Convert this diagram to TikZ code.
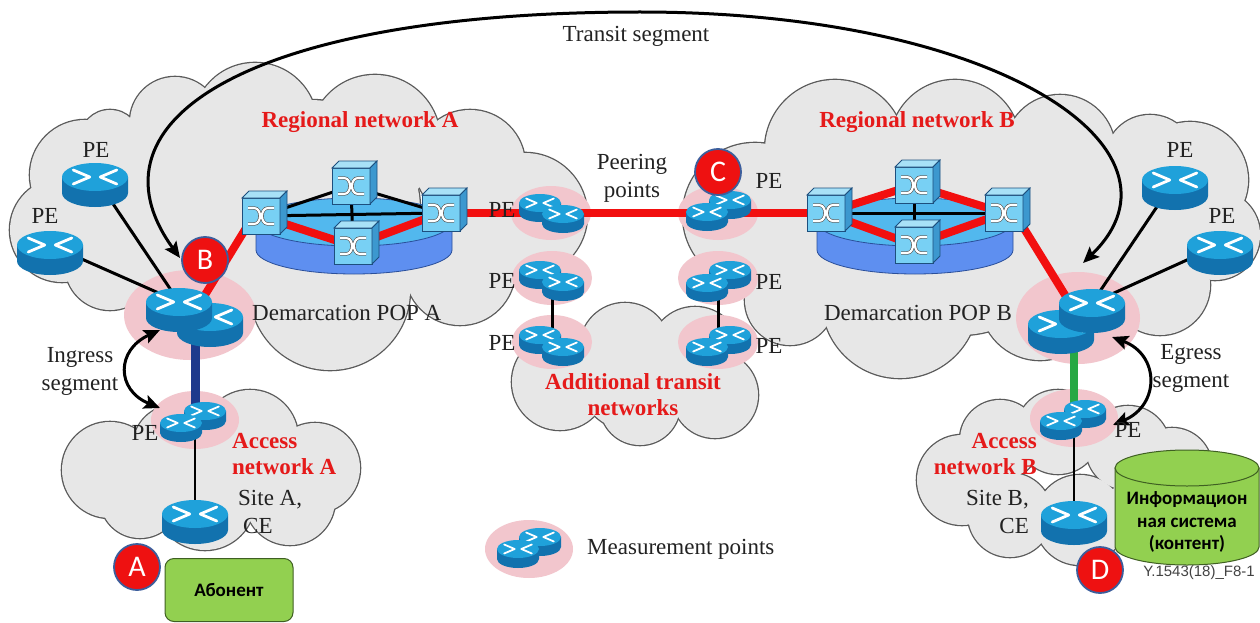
\documentclass[tikz,border=0pt]{standalone}
\usepackage{fontspec}
\setmainfont{Liberation Serif}
\newfontfamily\calib{Carlito}
\newfontfamily\arialf{Liberation Sans}
\usetikzlibrary{arrows.meta,shapes.geometric,calc}

\definecolor{cloudfill}{HTML}{E7E7E7}
\definecolor{cloudedge}{HTML}{5A5A5A}
\definecolor{pinkspot}{HTML}{F2C6CD}
\definecolor{linkred}{HTML}{F20F0F}
\definecolor{labelred}{HTML}{E51A1A}
\definecolor{navyline}{HTML}{1E3A8C}
\definecolor{greenline}{HTML}{27A844}
\definecolor{rtop}{HTML}{1FA1DA}
\definecolor{rside}{HTML}{1272AE}
\definecolor{cfront}{HTML}{78D0F4}
\definecolor{ctop}{HTML}{A8E1F7}
\definecolor{cright}{HTML}{3C98CF}
\definecolor{cedge}{HTML}{1D4F7E}
\definecolor{platop}{HTML}{52B8EE}
\definecolor{plaside}{HTML}{5E8FF0}
\definecolor{plaedge}{HTML}{2A4F9A}
\definecolor{lime}{HTML}{92D050}
\definecolor{limeedge}{HTML}{3F5F22}
\definecolor{markred}{HTML}{EE1111}
\definecolor{markedge}{HTML}{3C5E9C}
\definecolor{ink}{HTML}{222222}

% router: lid half width, lid half height, body depth
\newcommand\routerbody[3]{%
  \fill[rside] (-#1,0) -- (-#1,#3) arc[start angle=180,end angle=360,x radius=#1pt,y radius=#2pt] -- (#1,0) -- cycle;
  \fill[rtop] (0,0) ellipse[x radius=#1pt,y radius=#2pt];
  \draw[white,line width=#1*0.085pt,line cap=round,line join=round]
    (-0.66*#1,-0.5*#2) -- (-0.16*#1,0) -- (-0.66*#1,0.5*#2)
    (0.66*#1,-0.5*#2) -- (0.16*#1,0) -- (0.66*#1,0.5*#2);
}
% switch cube centred on its front face
\newcommand\switchbody{%
  \filldraw[cfront,draw=cedge,line width=0.8pt] (-19,-18) rectangle (19,18);
  \filldraw[ctop,draw=cedge,line width=0.8pt] (-19,-18) -- (-12,-25) -- (26,-25) -- (19,-18) -- cycle;
  \filldraw[cright,draw=cedge,line width=0.8pt] (19,-18) -- (26,-25) -- (26,11) -- (19,18) -- cycle;
  \draw[draw=ink!80,double=white,double distance=2.2pt,line width=0.6pt]
    (-13,-8) -- (-7,-8) .. controls (1,-8) and (1,8) .. (-7,8) -- (-13,8)
    (13,-8) -- (7,-8) .. controls (-1,-8) and (-1,8) .. (7,8) -- (13,8);
}
% cloud as a union of discs: outlines first, then fills
\newcommand\cloudblob[1]{%
  \foreach \cx/\cy/\cr in {#1} {\draw[cloudedge,line width=2.6pt] (\cx,\cy) circle[radius=\cr pt];}
  \foreach \cx/\cy/\cr in {#1} {\fill[cloudfill] (\cx,\cy) circle[radius=\cr pt];}
}
% ring platform under the switches
\newcommand\platform[1]{%
  \filldraw[plaside,draw=plaedge,line width=0.8pt] ($(#1)+(-98,0)$) -- ++(0,28) arc[start angle=180,end angle=360,x radius=98pt,y radius=24pt] -- ++(0,-28) -- cycle;
  \filldraw[platop,draw=plaedge,line width=0.8pt] (#1) ellipse[x radius=98pt,y radius=24pt];
}

\tikzset{
  router/.pic={\routerbody{33}{14}{16}},
  mrouter/.pic={\routerbody{21}{9}{10}},
  switchbox/.pic={\switchbody},
  lbl/.style={font=\fontsize{23}{28}\selectfont, text=ink, inner sep=0pt, align=center},
  rlbl/.style={lbl, font=\fontsize{23}{26}\selectfont\bfseries, text=labelred},
  spot/.style={ellipse, fill=pinkspot, inner sep=0pt},
  blacklink/.style={draw=black, line width=3pt},
  thinlink/.style={draw=black, line width=2.6pt},
  redlink/.style={draw=linkred, line width=8pt},
  seg/.style={draw=black, line width=3pt,
    arrows={Stealth[length=16pt,width=14pt,inset=3pt]-Stealth[length=16pt,width=14pt,inset=3pt]}},
  marker/.style={circle, fill=markred, draw=markedge, line width=1.8pt, text=white,
    font=\calib\fontsize{30}{30}\selectfont, minimum size=46pt, inner sep=0pt},
  abonent/.style={draw=limeedge, fill=lime, rounded corners=9pt, line width=1pt,
    minimum width=128pt, minimum height=63pt, font=\calib\bfseries\fontsize{19}{22}\selectfont}
}

\begin{document}
\begin{tikzpicture}[x=1pt,y=-1pt]
\useasboundingbox (0,0) rectangle (1260,623);
\fill[white] (0,0) rectangle (1260,623);

% ---------- clouds ----------
\cloudblob{560/382/48, 625/348/45, 695/352/45, 715/395/43, 640/405/40, 630/380/50}
\cloudblob{62/230/52, 85/175/55, 110/140/30, 175/122/45, 255/125/62, 375/140/65, 470/165/55,
  525/215/62, 330/290/80, 200/270/60, 110/265/45, 460/270/55, 310/210/110,
  190/185/55, 140/215/50, 140/160/32}
\cloudblob{755/215/72, 835/150/70, 955/145/65, 1060/150/55, 1150/160/45, 1190/180/58,
  1215/235/45, 1160/285/50, 1040/300/60, 900/300/78, 790/300/45, 960/225/110,
  1095/215/55, 1130/240/45, 830/265/45, 1100/272/36}
\cloudblob{110/470/48, 175/447/42, 250/438/48, 315/468/45, 205/500/50, 290/500/45, 140/498/40}
\cloudblob{962/480/45, 1000/440/40, 1058/432/42, 1128/448/42, 1172/468/40, 1010/515/42,
  1080/520/45, 1150/505/40}

% ---------- measurement spots ----------
\node[spot,minimum width=132pt,minimum height=90pt] (spDemA) at (190,315) {};
\node[spot,minimum width=124pt,minimum height=92pt] (spDemB) at (1078,318) {};
\node[spot,minimum width=80pt,minimum height=54pt] (spPk) at (551,213) {};
\node[spot,minimum width=80pt,minimum height=54pt] (spMidL) at (552,278) {};
\node[spot,minimum width=80pt,minimum height=54pt] (spBotL) at (552,342) {};
\node[spot,minimum width=80pt,minimum height=54pt] (spC) at (718,213) {};
\node[spot,minimum width=80pt,minimum height=54pt] (spMidR) at (718,278) {};
\node[spot,minimum width=80pt,minimum height=54pt] (spBotR) at (718,342) {};
\node[spot,minimum width=88pt,minimum height=58pt] (spAccA) at (195,420) {};
\node[spot,minimum width=88pt,minimum height=58pt] (spAccB) at (1074,418) {};
\node[spot,minimum width=88pt,minimum height=58pt] (spLeg) at (529,549) {};

% ---------- positions ----------
\coordinate (peTL) at (95,177);
\coordinate (peL) at (50,245);
\coordinate (demA1) at (179,302);
\coordinate (demA2) at (210,317);
\coordinate (ceA) at (195,514);
\coordinate (peTR) at (1175,180);
\coordinate (peR) at (1220,245);
\coordinate (demB1) at (1092,303);
\coordinate (demB2) at (1061,324);
\coordinate (ceB) at (1074,515);
\coordinate (swA1) at (261,216);
\coordinate (swA2) at (351,186);
\coordinate (swA3) at (441,213);
\coordinate (swA4) at (353,246);
\coordinate (swB1) at (826,213);
\coordinate (swB2) at (914,185);
\coordinate (swB3) at (1004,213);
\coordinate (swB4) at (914,245);
\coordinate (platA) at (354,222);
\coordinate (platB) at (915,222);
\coordinate (demAin) at (200,303);
\coordinate (swA1out) at (251,220);
\coordinate (demBin) at (1070,303);
\coordinate (swB3out) at (1020,222);

% ---------- platforms ----------
\platform{platA}
\platform{platB}

% ---------- links ----------
\draw[blacklink] (peTL) -- (demA1);
\draw[blacklink] (peL) -- (demA1);
\draw[blacklink] (peTR) -- (demB1);
\draw[blacklink] (peR) -- (demB1);
\draw[blacklink] (swA1) -- (swA2) -- (swA3) -- (swA1);
\draw[blacklink] (swA2) -- (swA4);
\draw[blacklink] (swB1) -- (swB3);
\draw[blacklink] (swB2) -- (swB4);
\draw[redlink] (swA1) -- (swA4) -- (swA3);
\draw[redlink] (swB1) -- (swB2) -- (swB3) -- (swB4) -- cycle;
\draw[redlink] (swA3) -- (spPk.center |- swA3) -- (spC.center |- swA3) -- (swB1);
\draw[redlink] (demAin) -- (swA1out);
\draw[redlink] (swB3out) -- (demBin);
\draw[draw=navyline, line width=9pt] (spAccA.center |- demA2) -- (spAccA.center);
\draw[draw=greenline, line width=8pt] (spAccB.center |- demB2) -- (spAccB.center);
\draw[thinlink] (spAccA.center) -- (ceA);
\draw[thinlink] (spAccB.center) -- (ceB);
\draw[blacklink] (spMidL.center) -- (spBotL.center);
\draw[blacklink] (spMidR.center) -- (spBotR.center);

% ---------- switches ----------
\foreach \s in {swA1,swA2,swA3,swA4,swB1,swB2,swB3,swB4} {\pic at (\s) {switchbox};}

% ---------- routers ----------
\pic at (peTL) {router};
\pic at (peL) {router};
\pic at (demA2) {router};
\pic at (demA1) {router};
\pic at (ceA) {router};
\pic at (peTR) {router};
\pic at (peR) {router};
\pic at (demB2) {router};
\pic at (demB1) {router};
\pic at (ceB) {router};
\pic at (540,203) {mrouter}; \pic at (563,214) {mrouter};
\pic at (540,270) {mrouter}; \pic at (563,282) {mrouter};
\pic at (540,335) {mrouter}; \pic at (563,347) {mrouter};
\pic at (730,200) {mrouter}; \pic at (707,212) {mrouter};
\pic at (730,270) {mrouter}; \pic at (707,283) {mrouter};
\pic at (730,335) {mrouter}; \pic at (707,347) {mrouter};
\pic at (205,411) {mrouter}; \pic at (181,423) {mrouter};
\pic at (1085,409) {mrouter}; \pic at (1061,421) {mrouter};
\pic at (540,537) {mrouter}; \pic at (518,549) {mrouter};

% ---------- information system store ----------
\filldraw[lime,draw=limeedge,line width=1pt] (1115,468) -- (1115,547) arc[start angle=180,end angle=360,x radius=72pt,y radius=18pt] -- (1259,468) -- cycle;
\filldraw[lime,draw=limeedge,line width=1pt] (1187,468) ellipse[x radius=72pt,y radius=18pt];
\node[font=\calib\bfseries\fontsize{19}{22.5}\selectfont, align=center, text=black, inner sep=0pt] (infoText) at (1187,522) {Информацион\\ная система\\(контент)};

% ---------- segment arrows ----------
\coordinate (trA) at (180,258);
\coordinate (trTop) at (640,12);
\coordinate (trB) at (1083,263);
\draw[seg] (trA) .. controls (80,120) and (250,12) .. (trTop) .. controls (1000,12) and (1200,150) .. (trB);
\coordinate (inA) at (160,330);
\coordinate (inB) at (160,408);
\draw[seg] (inA) .. controls (116,350) and (116,390) .. (inB);
\coordinate (egA) at (1112,337);
\coordinate (egB) at (1113,425);
\draw[seg] (egA) .. controls (1160,355) and (1160,405) .. (egB);

% ---------- labels ----------
\node[lbl] (tTransit) at (636,36) {Transit segment};
\node[rlbl] (tRegA) at (360,122) {Regional network A};
\node[rlbl] (tRegB) at (917,122) {Regional network B};
\node[lbl] (lPE1) at (96,150) {PE};
\node[lbl] (lPE2) at (45,216) {PE};
\node[lbl] (lPE3) at (1180,150) {PE};
\node[lbl] (lPE4) at (1222,216) {PE};
\node[lbl] (lPE5) at (502,210) {PE};
\node[lbl] (lPE6) at (502,281) {PE};
\node[lbl] (lPE7) at (502,343) {PE};
\node[lbl] (lPE8) at (769,181) {PE};
\node[lbl] (lPE9) at (769,282) {PE};
\node[lbl] (lPE10) at (769,346) {PE};
\node[lbl] (lPE11) at (145,433) {PE};
\node[lbl] (lPE12) at (1128,430) {PE};
\node[lbl] (tPeer) at (632,178) {Peering\\points};
\node[lbl,anchor=west] (tDemA) at (252,313) {Demarcation POP A};
\node[lbl] (tDemB) at (918,313) {Demarcation POP B};
\node[lbl] (tIngress) at (80,371) {Ingress\\segment};
\node[lbl] (tEgress) at (1191,368) {Egress\\segment};
\node[rlbl] (tAddl) at (633,395) {Additional transit\\networks};
\node[rlbl,align=left,anchor=north west] (tAccA) at (232,433) {Access\\network A};
\node[lbl,align=left,anchor=north west] (tSiteA) at (238,490) {Site A,\\\hspace{5pt}CE};
\node[rlbl,align=right,anchor=north east] (tAccB) at (1037,433) {Access\\network B};
\node[lbl,align=right,anchor=north east] (tSiteB) at (1029,490) {Site B,\\CE};
\node[lbl,anchor=west] (tLegend) at (587,549) {Measurement points};
\node[font=\arialf\fontsize{15}{15}\selectfont, text=ink!85, inner sep=0pt] (tRef) at (1199,573) {Y.1543(18)\_F8-1};

% ---------- reference points and endpoints ----------
\node[marker] (mA) at (137,567) {A};
\node[marker] (mB) at (205,260) {B};
\node[marker] (mC) at (718,172) {C};
\node[marker] (mD) at (1100,570) {D};
\node[abonent] (sub) at (229,590) {Абонент};
\end{tikzpicture}
\end{document}
